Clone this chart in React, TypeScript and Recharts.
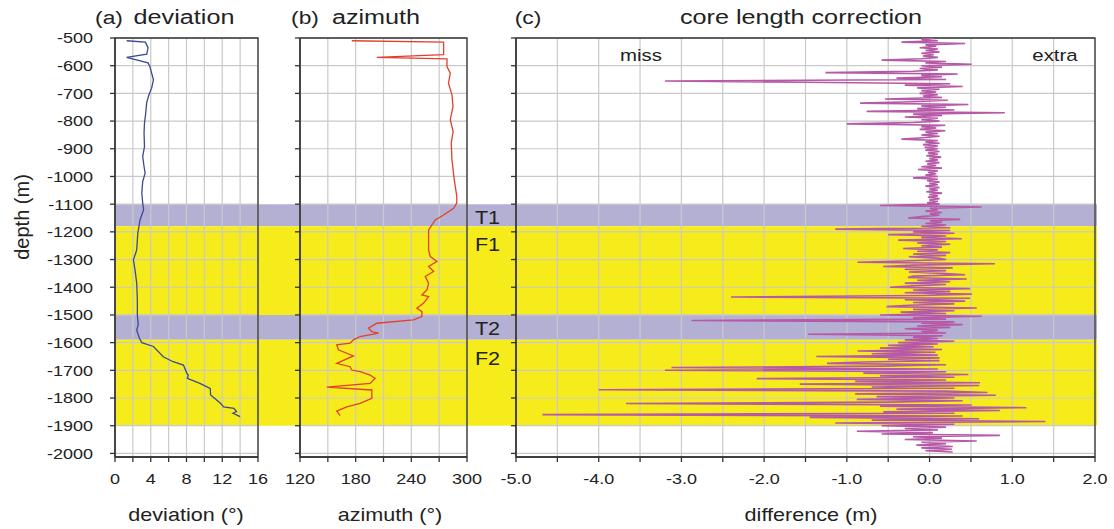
import React from 'react';
import { LineChart, Line, XAxis, YAxis, CartesianGrid, ReferenceArea } from 'recharts';

// depth profile (m) shared by all three tracks
const depthDomain: [number, number] = [-2013, -500];
const depthTicks = [-500, -600, -700, -800, -900, -1000, -1100, -1200, -1300, -1400, -1500, -1600, -1700, -1800, -1900, -2000];

// zones
const zoneNames = ['T1', 'F1', 'T2', 'F2'];
const zoneTop = [-1100, -1180, -1500, -1590];
const zoneBottom = [-1180, -1500, -1590, -1900];

// (a) deviation
const devDepth = [-510, -515, -535, -558, -570, -590, -603, -627, -651, -681, -705, -732, -771, -807, -843, -892, -928, -964, -988, -1018, -1060, -1096, -1120, -1157, -1205, -1265, -1301, -1337, -1385, -1446, -1500, -1536, -1554, -1584, -1600, -1614, -1651, -1669, -1681, -1711, -1717, -1729, -1747, -1765, -1789, -1819, -1832, -1837, -1849, -1855, -1867];
const devDeg = [1.3, 3.4, 3.7, 3.55, 1.3, 3.7, 3.9, 4.1, 4.3, 4.1, 3.8, 3.55, 3.44, 3.3, 3.25, 3.3, 3.1, 3.25, 3.37, 3.1, 3.0, 3.1, 3.2, 2.8, 2.55, 2.43, 2.06, 2.24, 2.43, 2.5, 2.5, 2.6, 2.43, 2.73, 3.0, 4.3, 5.4, 6.5, 7.66, 8.04, 8.2, 8.1, 9.5, 10.65, 10.7, 11.8, 12.15, 13.3, 13.6, 13.2, 14.0];
const devTicks = [0, 2, 4, 6, 8, 10, 12, 14, 16];

// (b) azimuth
const azDepth = [-510, -515, -560, -570, -575, -603, -627, -663, -705, -747, -795, -838, -880, -940, -1012, -1072, -1096, -1115, -1139, -1157, -1193, -1265, -1289, -1307, -1325, -1343, -1361, -1385, -1410, -1428, -1434, -1458, -1476, -1488, -1506, -1518, -1530, -1548, -1560, -1566, -1578, -1590, -1602, -1608, -1626, -1648, -1675, -1687, -1699, -1705, -1717, -1729, -1747, -1761, -1771, -1801, -1819, -1832, -1847, -1864];
const azDeg = [175.8, 274.8, 274.8, 202.8, 278.4, 278.4, 282, 280, 283.8, 284.9, 282, 285, 283, 283.8, 286.3, 289, 289, 285.6, 274.8, 265.8, 258.6, 258.6, 260.4, 267.6, 258.6, 264, 255, 258.6, 256.8, 251.4, 258.6, 253, 246, 251.4, 251.4, 242.4, 202.8, 193.8, 197.4, 204.6, 184.8, 177.6, 174, 159.6, 161.4, 177.6, 159.6, 174, 175.8, 184.8, 195.6, 201, 195.6, 148.8, 197.4, 197.4, 184.8, 170.4, 159.6, 163.2];
const azTicks = [120, 150, 180, 210, 240, 270, 300];

// (c) core length correction, sampled every 5 m from -500 m
const diffStart = -500;
const diffStep = 5;
const diffMeters = [
  0.05, -0.1, 0.1, -0.34, 0.43, -0.05, 0.08, -0.12, 0.1, -0.05, 0.12, -0.1, 0.05, -0.08, 0.1, -0.1, -0.58, 0.2, -0.05, 0.51,
  -0.1, 0.15, -0.12, 0.1, -0.2, -1.26, 0.34, -0.1, 0.15, -0.4, 0.2, -3.2, -1.5, 0.25, -0.3, 0.4, -0.15, 0.12, -0.1, 0.08,
  -0.12, 0.1, -0.08, 0.15, -0.54, 0.22, -0.2, -0.84, 0.47, -0.1, 0.2, -0.15, 0.3, -0.76, 0.91, -0.2, 0.15, -0.3, 0.1, -0.1,
  0.12, -0.2, -1.0, 0.19, -0.1, 0.08, -0.12, 0.19, -0.05, 0.1, -0.1, 0.12, -0.08, -0.34, 0.1, -0.05, 0.12, -0.08, 0.1, -0.06,
  0.1, -0.05, 0.12, -0.02, 0.1, -0.04, 0.14, 0.0, 0.1, -0.05, 0.12, -0.03, 0.08, -0.1, 0.15, -0.14, 0.1, -0.02, 0.08, -0.05,
  0.1, -0.2, 0.1, -0.03, 0.12, 0.0, 0.1, -0.05, 0.12, 0.0, 0.1, -0.04, 0.15, 0.0, 0.1, -0.02, 0.12, 0.0, 0.1, -0.03,
  0.12, -0.6, 0.63, 0.0, 0.1, -0.05, 0.15, 0.0, 0.12, -0.1, -0.26, 0.37, 0.0, 0.15, -0.05, 0.2, -0.1, 0.25, -1.14, 0.25,
  -0.2, 0.3, -0.5, 0.2, -0.1, 0.39, -0.38, 0.2, -0.15, 0.25, -0.1, 0.15, -0.32, 0.1, -0.15, 0.25, -0.2, 0.2, -0.25, 0.1,
  0.2, -0.3, -0.87, 0.79, -0.2, -0.56, 0.28, -0.3, 0.2, -0.25, 0.15, 0.43, -0.2, -0.26, 0.45, -0.15, 0.25, -0.3, 0.2, -0.2,
  -0.48, 0.49, -0.2, 0.25, -0.3, 0.51, -0.1, -2.4, 0.49, -0.3, 0.43, -0.2, 0.3, -0.25, -0.52, 0.57, -0.2, 0.3, -0.35, 0.2,
  -0.6, 0.63, -0.2, 0.2, -2.88, 0.3, -0.1, 0.4, -0.15, 0.25, -0.3, 0.1, -0.1, 0.2, -1.47, 0.16, -0.2, 0.1, -0.3, 0.3,
  -0.38, 0.1, -0.5, 0.05, -0.6, 0.15, -0.87, 0.07, -0.7, 0.1, -1.37, 0.12, -0.5, 0.12, -0.8, -1.24, 0.2, -0.6, -3.12, 0.1,
  -3.2, 0.2, -0.8, 0.47, -0.6, 0.3, -2.09, 0.2, -0.9, 0.61, -1.57, 0.6, -0.7, 0.3, -4.0, 0.2, 0.7, -0.9, 0.8, -0.64,
  0.3, -0.88, 0.4, -0.5, -3.67, 0.51, -0.6, 1.17, -0.4, 0.85, -0.56, 0.3, -4.68, 0.4, -1.45, 0.6, -0.7, 1.4, -1.14, 0.3,
  -0.58, 0.2, -0.3, 0.1, -0.88, 0.04, -0.58, 0.85, -0.2, 0.15, -0.3, 0.57, -0.1, 0.2, -0.16, 0.28, -0.1, 0.27, -0.05, 0.28,
];
const diffTicks = [-5, -4.5, -4, -3.5, -3, -2.5, -2, -1.5, -1, -0.5, 0, 0.5, 1, 1.5, 2];

const devData = devDepth.map((d, i) => ({ depth: d, v: devDeg[i] }));
const azData = azDepth.map((d, i) => ({ depth: d, v: azDeg[i] }));
const diffData = diffMeters.map((v, i) => ({ depth: diffStart - i * diffStep, v }));
const zoneData = zoneNames.map((n, i) => ({ depth: zoneTop[i], v: 0 }));

const W = 1114;
const H = 529;
const TOP = 38;
const BOTTOM = 72;
const AXIS_W = 60; // room kept for y tick labels
const AXIS_H = 30; // room kept for x tick labels
const SX = 1.2; // text in the source is stretched horizontally
const FONT = '"Liberation Sans", Arial, Helvetica, sans-serif';
const INK = '#222';
const GRID = '#c9c9c9';
const AXIS = '#333';

const StretchTick = (props: any) => {
  const { x, y, payload, textAnchor, fmt, vertical } = props;
  const label = fmt(payload.value);
  if (label === '') return <g />;
  return (
    <text
      transform={`translate(${x},${y}) scale(${SX},1)`}
      textAnchor={textAnchor}
      dy={vertical ? '0.36em' : '0.71em'}
      fontSize={15}
      fontFamily={FONT}
      fill={INK}
    >
      {label}
    </text>
  );
};

type TrackProps = {
  data: { depth: number; v: number }[];
  domain: [number, number];
  ticks: number[];
  fmt: (v: number) => string;
  color: string;
  width: number;
  left: number;
  right: number;
  showDepth?: boolean;
};

const Track = ({ data, domain, ticks, fmt, color, width, left, right, showDepth }: TrackProps) => (
  <div style={{ position: 'absolute', left: 0, top: 0 }}>
    <LineChart
      width={W}
      height={H}
      data={data}
      layout="vertical"
      margin={{ top: TOP, bottom: BOTTOM - AXIS_H, left: left - AXIS_W, right: W - right }}
    >
      <CartesianGrid stroke={GRID} strokeWidth={1.2} />
      <XAxis
        type="number"
        dataKey="v"
        domain={domain}
        ticks={ticks}
        interval={0}
        height={AXIS_H}
        tickSize={5}
        tickMargin={11}
        axisLine={{ stroke: AXIS, strokeWidth: 1.3 }}
        tickLine={{ stroke: AXIS, strokeWidth: 1.3 }}
        tick={(p: any) => <StretchTick {...p} fmt={fmt} />}
        allowDataOverflow
      />
      <YAxis
        type="number"
        dataKey="depth"
        domain={depthDomain}
        ticks={depthTicks}
        interval={0}
        reversed
        width={AXIS_W}
        tickSize={5}
        tickMargin={17}
        axisLine={{ stroke: AXIS, strokeWidth: 1.3 }}
        tickLine={{ stroke: AXIS, strokeWidth: 1.3 }}
        tick={(p: any) => <StretchTick {...p} vertical fmt={(v: number) => (showDepth ? String(v) : '')} />}
        allowDataOverflow
      />
      <ReferenceArea
        x1={domain[0]}
        x2={domain[1]}
        y1={depthDomain[0]}
        y2={depthDomain[1]}
        fill="none"
        stroke={AXIS}
        strokeWidth={1.3}
        ifOverflow="visible"
      />
      <Line
        dataKey="v"
        type="linear"
        stroke={color}
        strokeWidth={width}
        dot={false}
        isAnimationActive={false}
      />
    </LineChart>
  </div>
);

const Zones = () => (
  <div style={{ position: 'absolute', left: 0, top: 0 }}>
    <LineChart
      width={W}
      height={H}
      data={zoneData}
      layout="vertical"
      margin={{ top: TOP, bottom: BOTTOM, left: 115, right: W - 1097 }}
    >
      <XAxis type="number" dataKey="v" domain={[0, 1]} hide />
      <YAxis type="number" dataKey="depth" domain={depthDomain} reversed hide />
      {zoneNames.map((name, i) => (
        <ReferenceArea
          key={name}
          x1={0}
          x2={1}
          y1={zoneTop[i]}
          y2={zoneBottom[i]}
          fill={name[0] === 'T' ? '#b4b0d4' : '#f6ec1c'}
          fillOpacity={1}
          stroke="none"
          ifOverflow="visible"
          label={(p: any) => (
            <text
              transform={`translate(487.5,${p.viewBox.y + (name[0] === 'T' ? 20 : 25)}) scale(${SX},1)`}
              textAnchor="middle"
              fontSize={18}
              fontFamily={FONT}
              fill={INK}
            >
              {name}
            </text>
          )}
        />
      ))}
    </LineChart>
  </div>
);

const T = ({ x, y, size, children, anchor = 'middle' }: any) => (
  <text
    transform={`translate(${x},${y}) scale(${SX},1)`}
    textAnchor={anchor}
    fontSize={size}
    fontFamily={FONT}
    fill={INK}
  >
    {children}
  </text>
);

export default function App() {
  return (
    <div style={{ position: 'absolute', left: 0, top: 0, width: W, height: H, background: '#fff' }}>
      <Zones />
      <Track
        data={devData}
        domain={[0, 16]}
        ticks={devTicks}
        fmt={(v) => (v % 4 === 0 ? String(v) : '')}
        color="#3a4a8e"
        width={1.3}
        left={115}
        right={258}
        showDepth
      />
      <Track
        data={azData}
        domain={[120, 300]}
        ticks={azTicks}
        fmt={(v) => (v % 60 === 0 ? String(v) : '')}
        color="#e0412c"
        width={1.3}
        left={300}
        right={467}
      />
      <Track
        data={diffData}
        domain={[-5, 2]}
        ticks={diffTicks}
        fmt={(v) => (Number.isInteger(v) ? v.toFixed(1) : '')}
        color="#b65aa8"
        width={1.6}
        left={516}
        right={1095}
      />
      <svg width={W} height={H} style={{ position: 'absolute', left: 0, top: 0, pointerEvents: 'none' }}>
        <T x={109} y={24} size={19}>(a)</T>
        <T x={184} y={24} size={21}>deviation</T>
        <T x={305} y={24} size={19}>(b)</T>
        <T x={376} y={24} size={21}>azimuth</T>
        <T x={528} y={24} size={19}>(c)</T>
        <T x={801} y={24} size={21}>core length correction</T>
        <T x={641} y={61} size={17}>miss</T>
        <T x={1055} y={61} size={17}>extra</T>
        <T x={186} y={521} size={18}>deviation (°)</T>
        <T x={390} y={521} size={18}>azimuth (°)</T>
        <T x={811} y={521} size={18}>difference (m)</T>
        <text
          transform="translate(29,217) rotate(-90)"
          textAnchor="middle"
          fontSize={20}
          fontFamily={FONT}
          fill={INK}
        >
          depth (m)
        </text>
      </svg>
    </div>
  );
}
